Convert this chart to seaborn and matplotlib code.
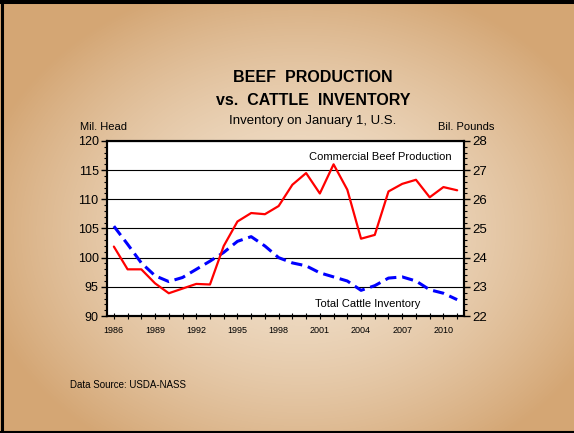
import numpy as np
import pandas as pd
import matplotlib
matplotlib.use("Agg")
import matplotlib.pyplot as plt
import seaborn as sns
from matplotlib.ticker import MultipleLocator

years = list(range(1986, 2012))
# total cattle inventory, Jan 1 (mil. head) - left axis
inventory = [105.4, 102.3, 99.1, 96.9, 95.9, 96.6, 98.0, 99.4, 100.9, 102.8,
             103.6, 102.0, 100.0, 99.1, 98.6, 97.4, 96.7, 96.0, 94.4, 95.2,
             96.5, 96.7, 96.0, 94.5, 93.9, 92.8]
# commercial beef production (bil. pounds) - right axis
production = [24.38, 23.6, 23.6, 23.12, 22.78, 22.94, 23.1, 23.08, 24.4, 25.24,
              25.53, 25.49, 25.77, 26.5, 26.9, 26.2, 27.2, 26.33, 24.65, 24.78,
              26.27, 26.53, 26.67, 26.07, 26.42, 26.31]
xtick_years = list(range(1986, 2011, 3))

df = pd.DataFrame({"year": years, "inventory": inventory, "production": production})

sns.set_theme(style="white")
plt.rcParams["font.family"] = ["Liberation Sans", "DejaVu Sans"]
plt.rcParams["text.color"] = "black"
plt.rcParams["xtick.color"] = "black"
plt.rcParams["ytick.color"] = "black"

fig = plt.figure(figsize=(5.74, 4.33), dpi=100)

# beige radial gradient background
bg = fig.add_axes([0, 0, 1, 1], zorder=-10)
yy, xx = np.mgrid[0:433, 0:574]
r = np.sqrt(((xx - 300) / 330.0) ** 2 + ((yy - 230) / 260.0) ** 2)
r = np.clip(r, 0, 1)
center = np.array([242, 226, 206]) / 255.0
edge = np.array([212, 166, 116]) / 255.0
w = r[..., None] ** 1.6
img = center[None, None, :] * (1 - w) + edge[None, None, :] * w
bg.imshow(img, aspect="auto", extent=[0, 1, 0, 1], origin="upper")
bg.set_xlim(0, 1)
bg.set_ylim(0, 1)
bg.axis("off")
# frame
bg.plot([1.5 / 574, 1.5 / 574], [0, 1], color="black", lw=2.2, solid_capstyle="butt")
bg.plot([0, 1], [1 - 2 / 433, 1 - 2 / 433], color="black", lw=2.9, solid_capstyle="butt")
bg.plot([0, 1], [1 / 433, 1 / 433], color="black", lw=1.5, solid_capstyle="butt")

ax = fig.add_axes([0.1864, 0.2702, 0.622, 0.4042])
ax.set_facecolor("white")
ax2 = ax.twinx()

sns.lineplot(data=df, x="year", y="inventory", ax=ax, color="#0000ff",
             lw=2.2, zorder=3)
ax.lines[-1].set_dashes([3.7, 1.9])
sns.lineplot(data=df, x="year", y="production", ax=ax2, color="#ff0000",
             lw=1.6, zorder=3)

ax.set_xlim(1985.5, 2011.5)
ax.set_ylim(90, 120)
ax2.set_ylim(22, 28)
ax.set_yticks(range(90, 121, 5))
ax.yaxis.set_minor_locator(MultipleLocator(1))
ax2.set_yticks(range(22, 29))
ax2.yaxis.set_minor_locator(MultipleLocator(0.2))
ax.set_xticks(xtick_years)
ax.set_xticklabels([str(y) for y in xtick_years], fontsize=6.5)
ax.xaxis.set_minor_locator(MultipleLocator(1))
ax.set_xlabel("")
ax.set_ylabel("")
ax2.set_ylabel("")

ax.yaxis.grid(True, color="black", lw=0.8)
ax.set_axisbelow(True)
for a in (ax, ax2):
    for s in a.spines.values():
        s.set_color("black")
        s.set_linewidth(1.5)
ax.tick_params(axis="y", which="major", direction="out", length=4, width=1,
               labelsize=9, pad=2, left=True)
ax.tick_params(axis="y", which="minor", direction="out", length=2, width=0.8,
               left=True)
ax.tick_params(axis="x", which="both", direction="inout", length=4, width=0.8,
               bottom=True, pad=5)
ax2.tick_params(axis="y", which="major", direction="out", length=4, width=1,
                labelsize=9.5, pad=2, right=True)
ax2.tick_params(axis="y", which="minor", direction="out", length=2, width=0.8,
                right=True)

ax2.text(2005.4, 27.45, "Commercial Beef Production", ha="center", va="center", fontsize=8)
ax2.text(2004.45, 22.42, "Total Cattle Inventory", ha="center", va="center", fontsize=8)

fig.text(0.545, 0.822, "BEEF  PRODUCTION", ha="center", va="center",
         fontsize=11.5, fontweight="bold")
fig.text(0.545, 0.769, "vs.  CATTLE  INVENTORY", ha="center", va="center",
         fontsize=11.5, fontweight="bold")
fig.text(0.545, 0.721, "Inventory on January 1, U.S.", ha="center", va="center",
         fontsize=9.5)
fig.text(0.139, 0.706, "Mil. Head", ha="left", va="center", fontsize=8)
fig.text(0.862, 0.706, "Bil. Pounds", ha="right", va="center", fontsize=8)
fig.text(0.122, 0.111, "Data Source: USDA-NASS", ha="left", va="center", fontsize=7)

plt.savefig("out.png", dpi=100)
plt.close()
